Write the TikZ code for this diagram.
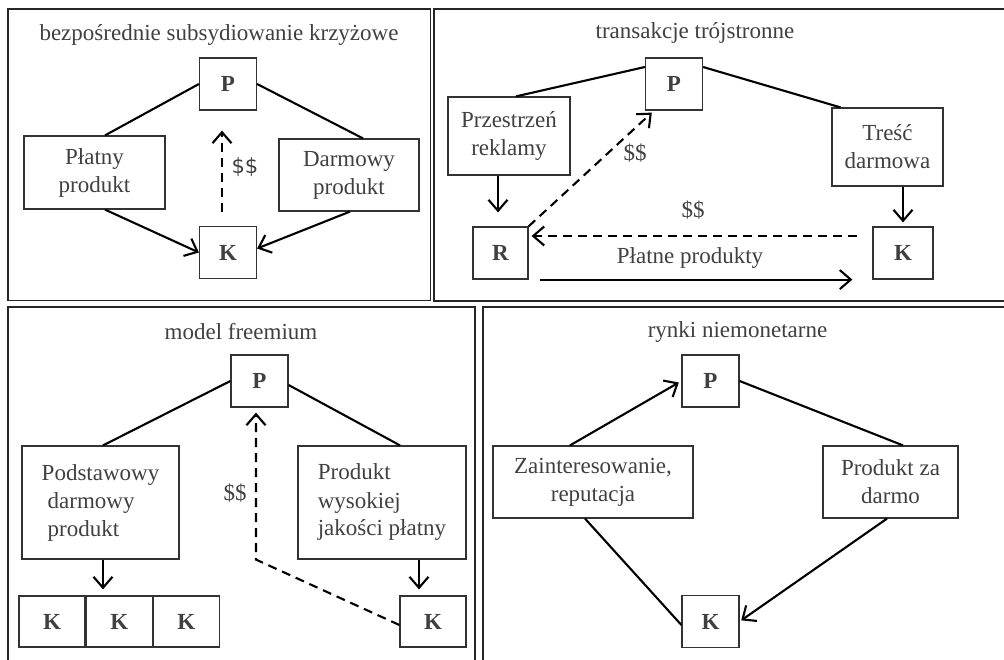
\documentclass[tikz,border=0pt]{standalone}
\usepackage{fontspec}
\setmainfont{Liberation Serif}
\newfontfamily\dollarfont{DejaVu Sans}
\usetikzlibrary{positioning,arrows.meta}

\begin{document}
\begin{tikzpicture}[x=1pt,y=-1pt,
  font=\fontsize{23}{28}\selectfont, text=black!75,
  frame/.style={draw=black!85,line width=1.4pt},
  box/.style={draw=black!80,line width=1.2pt,align=center,inner sep=2pt},
  tile/.style={box,minimum width=57pt,minimum height=52pt,font=\fontsize{23}{28}\selectfont\bfseries},
  heading/.style={inner sep=0pt},
  link/.style={line width=2.1pt},
  flow/.style={link,-{Straight Barb[length=11pt,width=19pt]}},
  money/.style={flow,dash pattern=on 9pt off 6pt}]
\useasboundingbox (0,0) rectangle (1004,660);
% panel frames
\draw[frame] (8,9) rectangle (430.5,300.5);
\draw[frame] (434,9) rectangle (1010,301);
\draw[frame] (8,307) rectangle (475,670);
\draw[frame] (483,307) rectangle (1010,670);

% bezposrednie subsydiowanie
\node[heading] (t1) at (219,35) {bezpośrednie subsydiowanie krzyżowe};
\node[tile] (p1) at (228,84) {P};
\node[box,minimum width=141pt,minimum height=73pt] (paid1) at (94.5,172.5) {Płatny\\produkt};
\node[box,minimum width=140pt,minimum height=72pt] (free1) at (349,175) {Darmowy\\produkt};
\node[tile] (k1) at (228,252.5) {K};
\node[heading] (d1) at (245,167) {\dollarfont\fontsize{21}{24}\selectfont\$\$};
\draw[link] (p1.west) -- ([xshift=10.5pt]paid1.north);
\draw[link] (p1.east) -- ([xshift=14pt]free1.north);
\draw[flow] ([xshift=10.5pt]paid1.south) -- (k1.west);
\draw[flow] ([xshift=1pt]free1.south) -- ([yshift=4pt]k1.east);
\draw[money,shorten <=14pt,shorten >=20pt] ([xshift=-6pt]k1.north) -- ([xshift=-6pt]p1.south);

% transakcje trojstronne
\node[heading] (t2) at (695,33) {transakcje trójstronne};
\node[tile] (p2) at (674,84) {P};
\node[box,minimum width=122pt,minimum height=78pt] (ads) at (509,136) {Przestrzeń\\reklamy};
\node[box,minimum width=111pt,minimum height=78pt] (cont) at (887.5,147) {Treść\\darmowa};
\node[tile,minimum width=55pt] (r) at (500.5,253) {R};
\node[tile,minimum width=60pt] (k2) at (903,253) {K};
\node[heading] (d2) at (635,153) {\$\$};
\node[heading] (d3) at (693,210) {\$\$};
\node[heading] (sale) at (690,258) {Płatne produkty};
\draw[link] ([yshift=17pt]p2.west) -- ([xshift=7pt]ads.north);
\draw[link] ([yshift=17pt]p2.east) -- ([xshift=-47pt]cont.north);
\draw[flow,shorten >=14pt] ([xshift=-2.5pt]r.north |- ads.south) -- ([xshift=-2.5pt]r.north);
\draw[flow,shorten >=4pt] (k2.north |- cont.south) -- (k2.north);
\draw[money,shorten >=3pt] (r.north east) -- ([xshift=-20pt]p2.south);
\draw[money,shorten <=15pt,shorten >=3pt] ([yshift=17pt]k2.west) -- ([yshift=17pt]r.east);
\draw[flow,shorten <=11.5pt,shorten >=20pt] (r.south east) -- (k2.south west);

% model freemium
\node[heading] (t3) at (241,332) {model freemium};
\node[tile] (p3) at (259.5,381) {P};
\node[box,align=left,minimum width=157pt,minimum height=113pt] (basic) at (100.5,502.5) {Podstawowy\\\hspace*{6pt}darmowy\\\hspace*{6pt}produkt};
\node[box,align=left,minimum width=168pt,minimum height=113pt] (premium) at (382,502.5) {Produkt\\wysokiej\\jakości płatny};
\node[tile,minimum width=66pt,minimum height=51pt] (k3a) at (52,621.5) {K};
\node[tile,minimum width=66pt,minimum height=51pt,right=0pt of k3a] (k3b) {K};
\node[tile,minimum width=66pt,minimum height=51pt,right=0pt of k3b] (k3c) {K};
\node[tile,minimum width=66pt,minimum height=51pt] (k3d) at (433,621.5) {K};
\node[heading] (d4) at (235,493) {\$\$};
\draw[link] (p3.west) -- ([xshift=2.5pt]basic.north);
\draw[link] ([yshift=-4pt]p3.east) -- ([xshift=18pt]premium.north);
\draw[flow,shorten >=6pt] ([xshift=2.5pt]basic.south) -- ([xshift=2.5pt]basic.south |- k3b.north);
\draw[flow,shorten >=6pt] ([xshift=37pt]premium.south) -- ([xshift=37pt]premium.south |- k3d.north);
\draw[money,shorten >=5pt] ([yshift=-3.5pt]k3d.west) -- ([xshift=-3.5pt]p3.south |- premium.south) -- ([xshift=-3.5pt]p3.south);

% rynki niemonetarne
\node[heading] (t4) at (737.5,332) {rynki niemonetarne};
\node[tile] (p4) at (710.5,381) {P};
\node[box,minimum width=200pt,minimum height=72pt] (interest) at (593,482) {Zainteresowanie,\\reputacja};
\node[box,minimum width=135pt,minimum height=72pt] (freeprod) at (890.5,482) {Produkt za\\darmo};
\node[tile] (k4) at (710.5,621.5) {K};
\draw[flow,shorten >=3pt] ([xshift=-23pt]interest.north) -- (p4.west);
\draw[link] (p4.east) -- ([xshift=12.5pt]freeprod.north);
\draw[link] ([xshift=-8pt]interest.south) -- ([yshift=-3.5pt]k4.west);
\draw[flow,shorten >=2pt] ([xshift=-3.5pt]freeprod.south) -- (k4.east);
\end{tikzpicture}
\end{document}
